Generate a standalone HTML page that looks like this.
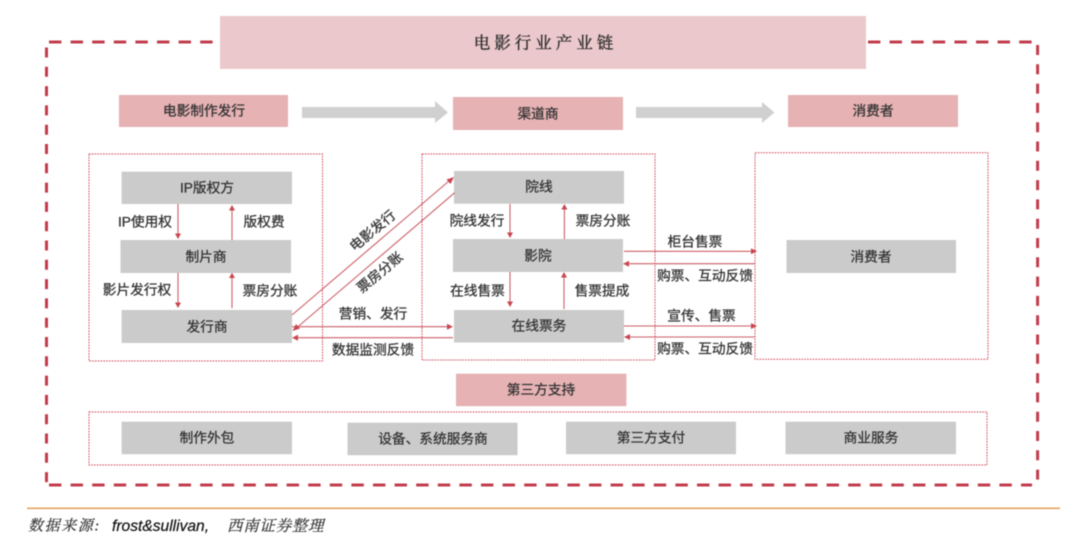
<!DOCTYPE html>
<html lang="zh">
<head>
<meta charset="utf-8">
<title>电影行业产业链</title>
<style>
html,body{margin:0;padding:0;background:#fff;width:1080px;height:545px;overflow:hidden}
svg{display:block;filter:blur(.5px)}
text{font-family:"Liberation Sans","Noto Sans CJK SC",sans-serif;font-size:13.7px;fill:#333;stroke:#333;stroke-width:.28px;text-anchor:middle;dominant-baseline:central}
.g{fill:#cbcbcb}
.p{fill:#e6b2b4}
.d{fill:none;stroke:#d2505f;stroke-width:1;stroke-dasharray:1.7 1.1}
.o{stroke:#c23c4c;stroke-width:3;fill:none}
.a{stroke:#cc5f68;stroke-width:1.1;fill:none}
.h{fill:#c8474f}
.s{font-family:"Liberation Serif","Noto Serif CJK SC",serif;font-style:italic;text-anchor:start}
</style>
</head>
<body>
<svg width="1080" height="545" viewBox="0 0 1080 545" xmlns="http://www.w3.org/2000/svg">
<rect width="1080" height="545" fill="#fff"/>

<!-- outer dashed frame -->
<line class="o" x1="49" y1="42" x2="213" y2="42" stroke-dasharray="12.4 9.2"/>
<line class="o" x1="868" y1="42" x2="1032" y2="42" stroke-dasharray="12.4 9.2"/>
<line class="o" x1="46.5" y1="47.5" x2="46.5" y2="485" stroke-dasharray="10 9.3"/>
<line class="o" x1="1037.6" y1="45" x2="1037.6" y2="483" stroke-dasharray="10 9.3"/>
<line class="o" x1="47" y1="485" x2="1032" y2="485" stroke-dasharray="12.4 9.2" stroke-dashoffset="-2"/>

<!-- title -->
<rect x="220" y="16" width="646" height="53" fill="#ebc8cb"/>

<!-- header boxes -->
<rect class="p" x="119" y="95" width="169" height="32"/>
<rect class="p" x="453" y="97" width="170" height="33"/>
<rect class="p" x="788" y="95" width="170" height="32"/>

<!-- large gray arrows -->
<polygon fill="#d0d0d0" points="302,107 435,107 435,101 448,112.5 435,123 435,118 302,118"/>
<polygon fill="#d0d0d0" points="636,107 762,107 762,102 774.5,112.5 762,123 762,118 636,118"/>

<!-- dotted groups -->
<rect class="d" x="89" y="154" width="233.5" height="207"/>
<rect class="d" x="422" y="154" width="233" height="206"/>
<rect class="d" x="755" y="152.7" width="233" height="206.5"/>
<rect class="d" x="89" y="412" width="898" height="53"/>

<!-- gray boxes -->
<rect class="g" x="121.6" y="171.7" width="170.4" height="32.3"/>
<rect class="g" x="120.5" y="240" width="170.5" height="33"/>
<rect class="g" x="121.6" y="310" width="170.4" height="33"/>
<rect class="g" x="454" y="171" width="170" height="32.7"/>
<rect class="g" x="453" y="239" width="170" height="33"/>
<rect class="g" x="454" y="310" width="170" height="32.5"/>
<rect class="g" x="786.5" y="240" width="169.5" height="33"/>
<rect class="p" x="456" y="373.7" width="170.4" height="32.5"/>
<rect class="g" x="121.6" y="421.7" width="170.4" height="32.5"/>
<rect class="g" x="347.5" y="422.7" width="170" height="32.5"/>
<rect class="g" x="566" y="421.7" width="170" height="32.5"/>
<rect class="g" x="785.5" y="421.7" width="170.5" height="32.5"/>

<!-- vertical connectors -->
<line class="a" x1="178" y1="204" x2="178" y2="234"/><polygon class="h" points="175,233.5 181,233.5 178,239"/>
<line class="a" x1="232" y1="240" x2="232" y2="210"/><polygon class="h" points="229,210.5 235,210.5 232,205"/>
<line class="a" x1="178" y1="273" x2="178" y2="303"/><polygon class="h" points="175,302.5 181,302.5 178,308"/>
<line class="a" x1="232" y1="308" x2="232" y2="278"/><polygon class="h" points="229,278 235,278 232,272.7"/>
<line class="a" x1="510" y1="204" x2="510" y2="233"/><polygon class="h" points="507,232.5 513,232.5 510,238"/>
<line class="a" x1="564.4" y1="239" x2="564.4" y2="209"/><polygon class="h" points="561.4,209.5 567.4,209.5 564.4,204"/>
<line class="a" x1="510" y1="272" x2="510" y2="302"/><polygon class="h" points="507,301.5 513,301.5 510,307"/>
<line class="a" x1="564" y1="309" x2="564" y2="277"/><polygon class="h" points="561,277.5 567,277.5 564,272"/>

<!-- horizontal connectors -->
<line class="a" x1="624" y1="251.3" x2="752" y2="251.3"/><polygon class="h" points="751,248.3 751,254.3 757,251.3"/>
<line class="a" x1="755" y1="263.7" x2="628" y2="263.7"/><polygon class="h" points="629,260.7 629,266.7 623,263.7"/>
<line class="a" x1="624" y1="326" x2="752" y2="326"/><polygon class="h" points="751,323 751,329 757,326"/>
<line class="a" x1="755" y1="337" x2="629" y2="337"/><polygon class="h" points="630,334 630,340 624,337"/>
<line class="a" x1="292" y1="326.7" x2="448" y2="326.7"/><polygon class="h" points="447,323.7 447,329.7 453,326.7"/>
<line class="a" x1="453" y1="337.7" x2="297" y2="337.7"/><polygon class="h" points="298,334.7 298,340.7 292,337.7"/>

<!-- diagonal connectors -->
<line class="a" x1="292" y1="315" x2="449" y2="181"/><polygon class="h" points="454,177 446.5,179.5 450.5,184"/>
<line class="a" x1="454.7" y1="192.7" x2="297" y2="327.5"/><polygon class="h" points="292.5,331 300,328.5 296,324"/>

<!-- footer rule -->
<rect x="27" y="507.5" width="1033" height="1.6" fill="#e3a35c"/>

<g transform="translate(0,.8)">
<text x="545.5" y="42" style="font-family:'Liberation Serif','Noto Serif CJK SC',serif;font-size:16.5px;letter-spacing:4px;stroke-width:.35px;fill:#2e2e2e;stroke:#2e2e2e">电影行业产业链</text>
<text x="204" y="110">电影制作发行</text>
<text x="538" y="113">渠道商</text>
<text x="873" y="110">消费者</text>

<text x="207" y="187">IP版权方</text>
<text x="206" y="256">制片商</text>
<text x="207" y="326">发行商</text>
<text x="539" y="186">院线</text>
<text x="538" y="255">影院</text>
<text x="539" y="325">在线票务</text>
<text x="871" y="256">消费者</text>
<text x="541" y="389">第三方支持</text>
<text x="207" y="437">制作外包</text>
<text x="433" y="438">设备、系统服务商</text>
<text x="651" y="437">第三方支付</text>
<text x="871" y="437">商业服务</text>

<text x="145" y="221">IP使用权</text>
<text x="264" y="221">版权费</text>
<text x="137" y="289">影片发行权</text>
<text x="270" y="290">票房分账</text>
<text x="477" y="220">院线发行</text>
<text x="603" y="220">票房分账</text>
<text x="477.5" y="290">在线售票</text>
<text x="602" y="290">售票提成</text>
<text x="695" y="241">柜台售票</text>
<text x="705" y="275">购票、互动反馈</text>
<text x="701.5" y="315">宣传、售票</text>
<text x="705" y="348">购票、互动反馈</text>
<text x="373" y="313">营销、发行</text>
<text x="373" y="349">数据监测反馈</text>
<text x="372.7" y="230" transform="rotate(-40 372.7 230)">电影发行</text>
<text x="380" y="271.7" transform="rotate(-40 380 271.7)">票房分账</text>

<text class="s" x="28" y="525.5" style="font-size:15px;letter-spacing:1.6px;fill:#333;stroke:#333;stroke-width:.2px">数据来源:</text>
<text x="112" y="525.5" style="font-style:italic;font-size:15.6px;text-anchor:start;fill:#111;stroke:#111;stroke-width:.2px">frost&amp;sullivan,</text>
<text class="s" x="227" y="525.5" style="font-size:15.5px;letter-spacing:.7px;fill:#333;stroke:#333;stroke-width:.2px">西南证券整理</text>
</g>
</svg>
</body>
</html>
